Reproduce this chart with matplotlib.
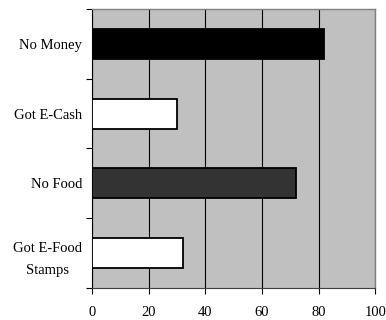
import matplotlib.pyplot as plt

plt.rcParams["font.family"] = "Liberation Serif"
plt.rcParams["font.size"] = 10.5

categories = ["No Money", "Got E-Cash", "No Food", "Got E-Food\nStamps"]
values = [82, 30, 72, 32]
colors = ["#000000", "#ffffff", "#333333", "#ffffff"]

fig = plt.figure(figsize=(3.86, 3.2), dpi=100)
ax = fig.add_axes([0.238, 0.1, 0.734, 0.872])
ax.set_facecolor("#c0c0c0")

pos = list(range(len(categories)))[::-1]
ax.barh(pos, values, height=0.43, color=colors, edgecolor="black", linewidth=1.3, zorder=3)

ax.set_xlim(0, 100)
ax.set_ylim(-0.5, len(categories) - 0.5)
ax.set_xticks(range(0, 101, 20))
ax.set_yticks(pos)
ax.set_yticklabels(categories, multialignment="center", linespacing=1.9)
ax.set_yticks([p + 0.5 for p in range(-1, len(categories))], minor=True)
ax.tick_params(axis="y", which="major", length=0, pad=7)
ax.tick_params(axis="y", which="minor", length=4, width=0.8, direction="out")
ax.tick_params(axis="x", length=4, width=0.8, direction="out", pad=9)

ax.xaxis.grid(True, color="black", linewidth=0.8, zorder=1)
ax.set_axisbelow(True)

for side in ["top", "right"]:
    ax.spines[side].set_color("#808080")
    ax.spines[side].set_linewidth(1.0)
ax.spines["left"].set_color("black")
ax.spines["bottom"].set_color("#404040")

fig.savefig("out.png", dpi=100)
